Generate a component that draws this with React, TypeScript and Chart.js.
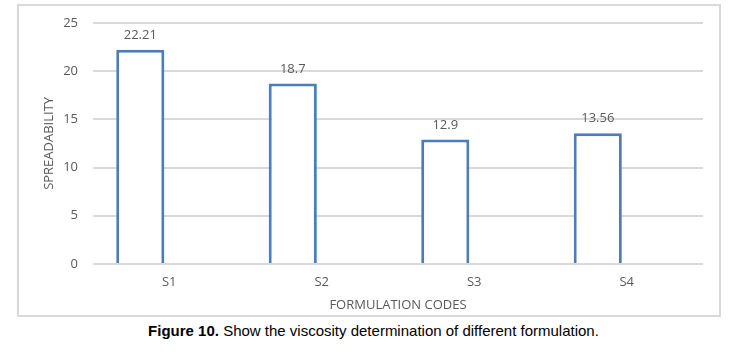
import React, { useEffect, useRef } from "react";
import { Chart, registerables } from "chart.js";

Chart.register(...registerables);

const categories = ["S1", "S2", "S3", "S4"];
const spreadability = [22.21, 18.7, 12.9, 13.56];
const valueLabels = ["22.21", "18.7", "12.9", "13.56"];
const emptySeries = [null, null, null, null];
const yTicks = [0, 5, 10, 15, 20, 25];

const TEXT = "#595959";
const FONT = "'Open Sans', 'Liberation Sans', sans-serif";

const valueLabelPlugin = {
  id: "valueLabels",
  afterDatasetsDraw(chart: any) {
    const meta = chart.getDatasetMeta(0);
    const ctx = chart.ctx;
    ctx.save();
    ctx.fillStyle = TEXT;
    ctx.font = `13px ${FONT}`;
    ctx.textAlign = "center";
    ctx.textBaseline = "bottom";
    meta.data.forEach((bar: any, i: number) => {
      ctx.fillText(valueLabels[i], bar.x, bar.y - 8);
    });
    ctx.restore();
  },
};

export default function App() {
  const ref = useRef<HTMLCanvasElement>(null);
  useEffect(() => {
    if (!ref.current) return;
    const chart = new Chart(ref.current, {
      type: "bar",
      data: {
        labels: categories,
        datasets: [
          {
            data: spreadability,
            backgroundColor: "#ffffff",
            borderColor: "#4a7ebb",
            borderWidth: 3,
            categoryPercentage: 0.76,
            barPercentage: 0.83,
          },
          {
            data: emptySeries as any,
            backgroundColor: "#ffffff",
            borderColor: "#4a7ebb",
            borderWidth: 0,
            categoryPercentage: 0.76,
            barPercentage: 0.83,
          },
        ],
      },
      options: {
        responsive: false,
        animation: false,
        events: [],
        layout: { padding: { left: 34, right: 44, top: 22, bottom: 0 } },
        plugins: {
          legend: { display: false },
          tooltip: { enabled: false },
        },
        scales: {
          x: {
            grid: { display: false, drawTicks: false },
            border: { display: false },
            ticks: { color: TEXT, font: { family: FONT, size: 13 }, padding: 10 },
            title: {
              display: true,
              text: "FORMULATION CODES",
              color: TEXT,
              font: { family: FONT, size: 13 },
              padding: { top: 0, bottom: 7 },
            },
            afterFit: (s: any) => {
              s.height = 56;
            },
          },
          y: {
            min: 0,
            max: 25,
            afterBuildTicks: (s: any) => {
              s.ticks = yTicks.map((v) => ({ value: v }));
            },
            grid: { color: "#d9d9d9", lineWidth: 2, drawTicks: false },
            border: { display: false },
            ticks: { color: TEXT, font: { family: FONT, size: 13 }, padding: 15 },
            title: {
              display: true,
              text: "SPREADABILITY",
              color: TEXT,
              font: { family: FONT, size: 13 },
              padding: { top: 7, bottom: 0 },
            },
            afterFit: (s: any) => {
              s.width = 59;
            },
          },
        },
      },
      plugins: [valueLabelPlugin],
    });
    return () => chart.destroy();
  }, []);

  return (
    <div style={{ position: "fixed", left: 0, top: 0, width: 747, height: 352, background: "#fff" }}>
      <div
        style={{
          position: "absolute",
          left: 17,
          top: 4,
          width: 700,
          height: 309,
          border: "2px solid #d9d9d9",
        }}
      />
      <canvas
        ref={ref}
        width={747}
        height={320}
        style={{ position: "absolute", left: 0, top: 0, width: 747, height: 320 }}
      />
      <div
        style={{
          position: "absolute",
          left: 0,
          top: 322,
          width: 747,
          textAlign: "center",
          fontFamily: "'Liberation Sans', Arial, sans-serif",
          fontSize: 15,
          lineHeight: "18px",
          color: "#000",
        }}
      >
        <b>Figure 10.</b> Show the viscosity determination of different formulation.
      </div>
    </div>
  );
}
